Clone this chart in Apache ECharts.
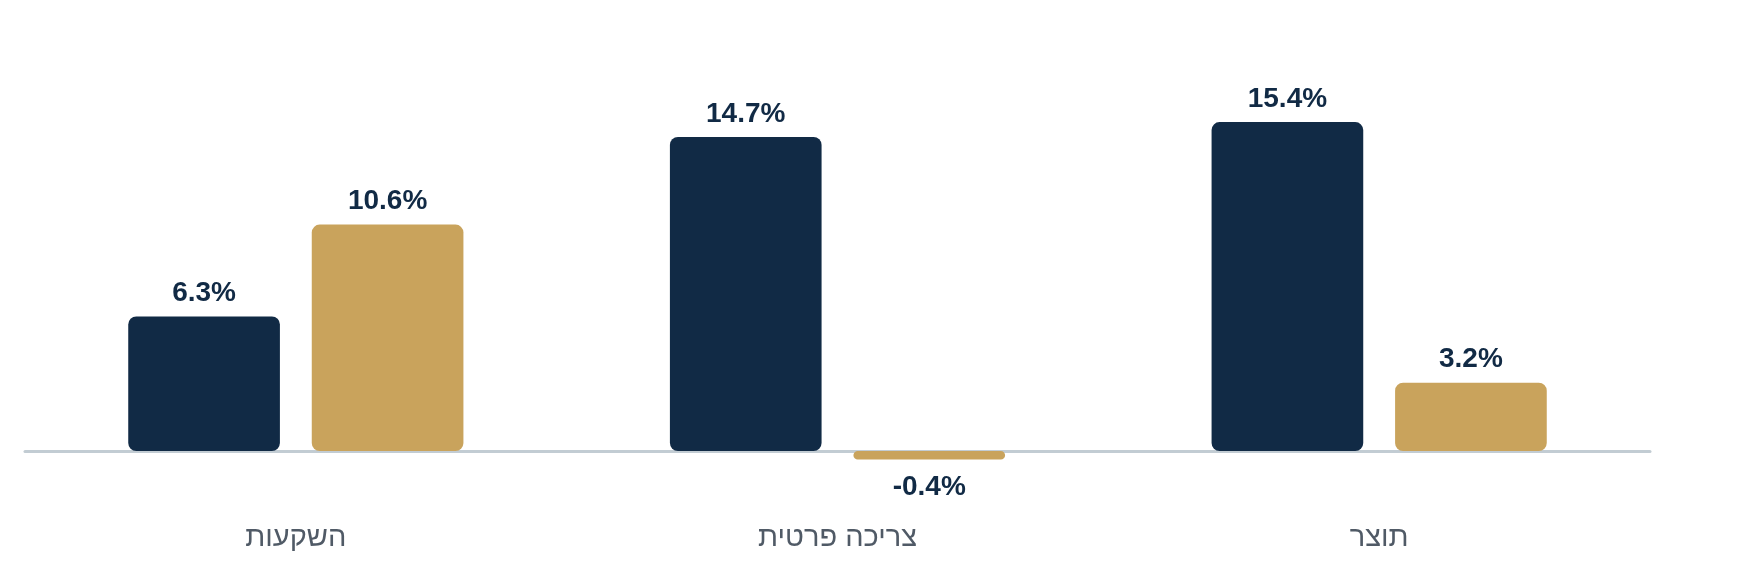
<!DOCTYPE html>
<html>
<head>
<meta charset="utf-8">
<script src="https://cdn.jsdelivr.net/npm/echarts@6/dist/echarts.min.js"></script>
<style>
html,body{margin:0;padding:0;background:#fff;}
#chart{width:1750px;height:575px;}
</style>
</head>
<body>
<div id="chart"></div>
<script>
const categories = ['השקעות', 'צריכה פרטית', 'תוצר'];
const darkValues = [6.3, 14.7, 15.4];
const goldValues = [10.6, -0.4, 3.2];

const DARK = '#112a45';
const GOLD = '#c9a35c';

function toData(values) {
  return values.map(v => v < 0
    ? { value: v, label: { position: 'bottom', distance: 14 } }
    : { value: v });
}

const labelStyle = {
  show: true,
  position: 'top',
  distance: 9,
  formatter: p => p.value + '%',
  fontFamily: 'Liberation Sans, Arial, sans-serif',
  fontSize: 28,
  fontWeight: 'bold',
  color: DARK
};

const chart = echarts.init(document.getElementById('chart'));
chart.setOption({
  animation: false,
  backgroundColor: '#ffffff',
  grid: { left: 25, right: 100, top: 66.5, bottom: 81.3, containLabel: false, outerBoundsMode: 'none' },
  xAxis: {
    type: 'category',
    data: categories,
    axisLine: { show: true, onZero: true, lineStyle: { color: '#c2ccd3', width: 3 } },
    axisTick: { show: false },
    axisLabel: {
      margin: 30,
      fontFamily: 'Liberation Sans, Arial, sans-serif',
      fontSize: 29,
      color: '#505a66'
    },
    z: 1
  },
  yAxis: {
    type: 'value',
    min: -2,
    max: 18,
    interval: 2,
    show: false,
    splitLine: { show: false }
  },
  series: [
    {
      type: 'bar',
      data: toData(darkValues),
      barWidth: '28%',
      barGap: '21%',
      itemStyle: { color: DARK, borderRadius: 8 },
      label: labelStyle,
      z: 3
    },
    {
      type: 'bar',
      data: toData(goldValues),
      barWidth: '28%',
      barGap: '21%',
      itemStyle: { color: GOLD, borderRadius: 8 },
      label: labelStyle,
      z: 3
    }
  ]
});
</script>
</body>
</html>
